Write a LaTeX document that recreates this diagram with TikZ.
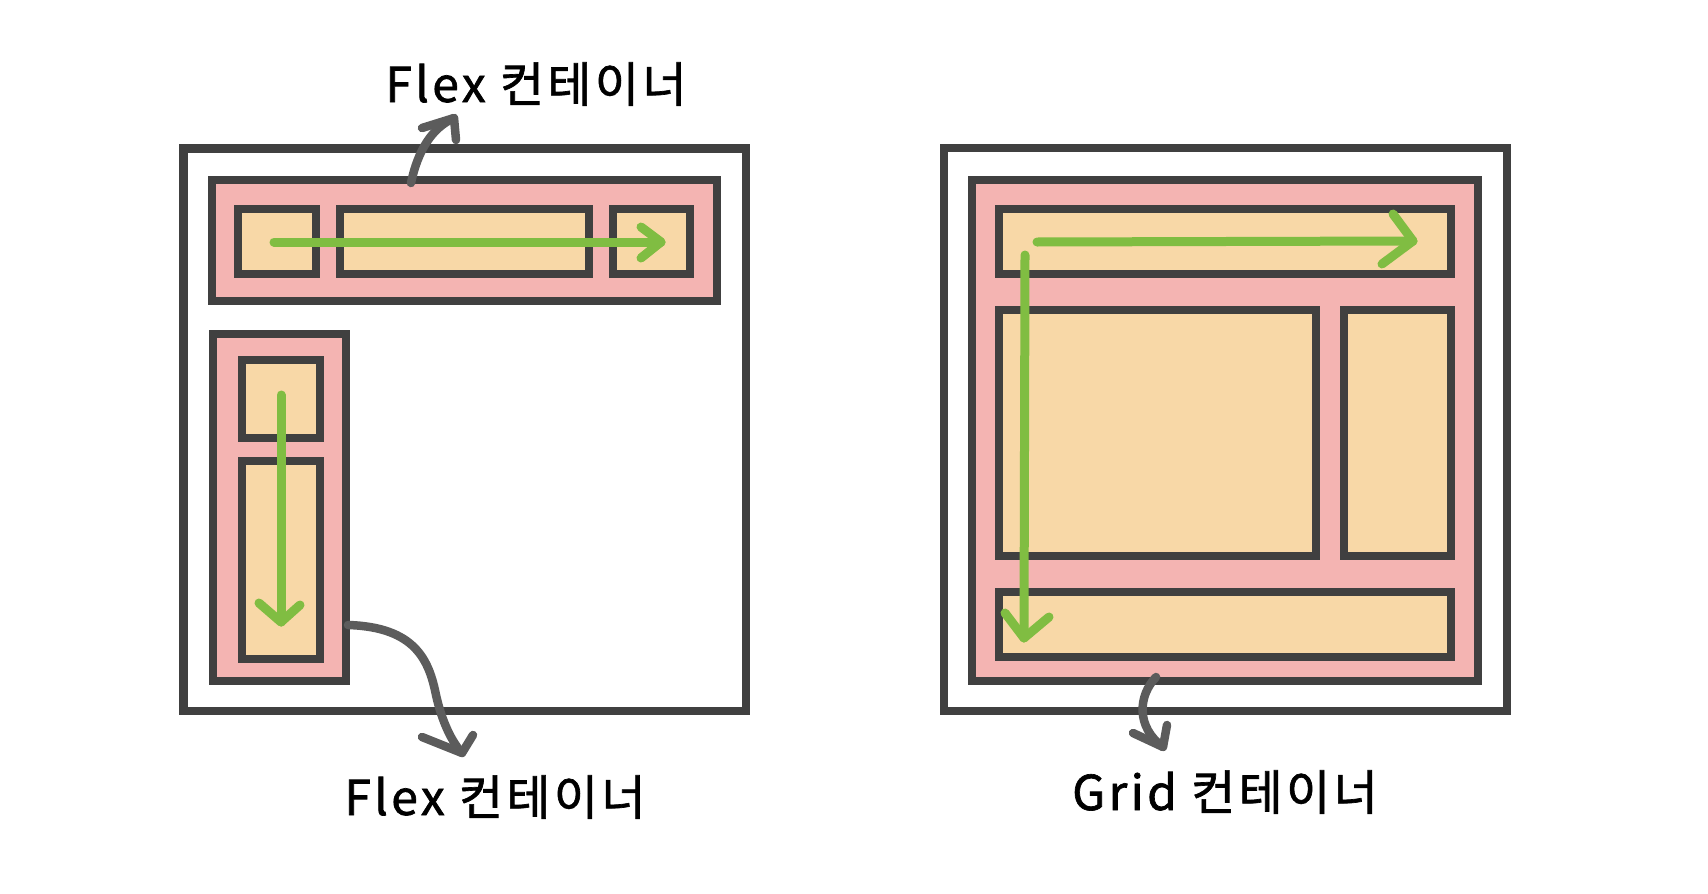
\documentclass[tikz,border=0pt]{standalone}
\usepackage{fontspec}
\newfontfamily\kfont{Noto Sans CJK KR}[LetterSpace=7,FakeBold=1.4]
\definecolor{edge}{RGB}{64,64,64}
\definecolor{pinkfill}{RGB}{244,180,178}
\definecolor{peach}{RGB}{248,216,167}
\definecolor{flowgreen}{RGB}{128,189,66}
\definecolor{pointer}{RGB}{92,92,92}
\tikzset{
  frame/.style={draw=edge, line width=8.5pt, fill=white, inner sep=0pt, outer sep=0pt, anchor=north west},
  container/.style={frame, fill=pinkfill},
  item/.style={frame, fill=peach},
  flow/.style={draw=flowgreen, line width=9pt, line cap=round, line join=round},
  pointerline/.style={draw=pointer, line width=8.5pt, line cap=round, line join=round},
  label/.style={font=\kfont\fontsize{48}{56}\selectfont, text=black, inner sep=0pt, anchor=base}
}
\begin{document}
\begin{tikzpicture}[x=1pt,y=-1pt]
\useasboundingbox (0,0) rectangle (1708,894);
% ---------- left: flex ----------
\node[frame, minimum width=562.5pt, minimum height=562.5pt] (Lout) at (183.5,148.5) {};
\node[container, minimum width=505pt, minimum height=121pt] (Lrow) at (212,180) {};
\node[item, minimum width=78pt, minimum height=65pt] (r1) at (238,209) {};
\node[item, minimum width=249pt, minimum height=65pt] (r2) at (340,209) {};
\node[item, minimum width=77pt, minimum height=65pt] (r3) at (613,209) {};
\node[container, minimum width=133pt, minimum height=347pt] (Lcol) at (213,334) {};
\node[item, minimum width=78pt, minimum height=78pt] (c1) at (242,360) {};
\node[item, minimum width=78pt, minimum height=198pt] (c2) at (242,461) {};
% green flow arrows
\coordinate (h1s) at (274,242);
\coordinate (h1e) at (661,242);
\draw[flow] (h1s) -- (h1e);
\draw[flow] (641,227) -- (h1e) -- (641,258);
\coordinate (v1s) at (281,395);
\coordinate (v1e) at (281,622);
\draw[flow] (v1s) -- (v1e);
\draw[flow] (259,603) -- (v1e) -- (300,605);
% labels
\node[label] (Ltop) at (536,102) {Flex 컨테이너};
\node[label] (Lbot) at (495,815) {Flex 컨테이너};
% grey pointers
\coordinate (p1s) at (411,183);
\coordinate (p1e) at (454,118);
\draw[pointerline] (p1s) .. controls (418,150) and (432,128) .. (p1e);
\draw[pointerline] (422,128) -- (p1e) -- (456,140);
\coordinate (p2s) at (348,625);
\coordinate (p2e) at (462,753);
\draw[pointerline] (p2s) .. controls (415,627) and (429,660) .. (436,695) .. controls (442,722) and (452,742) .. (p2e);
\draw[pointerline] (422,737) -- (p2e) -- (473,735);
% ---------- right: grid ----------
\node[frame, minimum width=563pt, minimum height=563pt] (Rout) at (944,148) {};
\node[container, minimum width=506pt, minimum height=501pt] (Rgrid) at (972,180) {};
\node[item, minimum width=452pt, minimum height=65pt] (g1) at (999,209) {};
\node[item, minimum width=317pt, minimum height=246pt] (g2) at (999,310) {};
\node[item, minimum width=107pt, minimum height=246pt] (g3) at (1344,310) {};
\node[item, minimum width=452pt, minimum height=65pt] (g4) at (999,592) {};
\coordinate (h2s) at (1037,242);
\coordinate (h2e) at (1413,241);
\draw[flow] (h2s) -- (h2e);
\draw[flow] (1393,214) -- (h2e) -- (1382,264);
\coordinate (v2s) at (1025,255);
\coordinate (v2e) at (1024,638);
\draw[flow] (v2s) -- (v2e);
\draw[flow] (1005,613) -- (v2e) -- (1049,617);
\node[label] (Rbot) at (1225,810) {Grid 컨테이너};
\coordinate (p3s) at (1156,677);
\coordinate (p3e) at (1163,747);
\draw[pointerline] (p3s) .. controls (1138,696) and (1136,727) .. (p3e);
\draw[pointerline] (1133,733) -- (p3e) -- (1167,725);
\end{tikzpicture}
\end{document}
